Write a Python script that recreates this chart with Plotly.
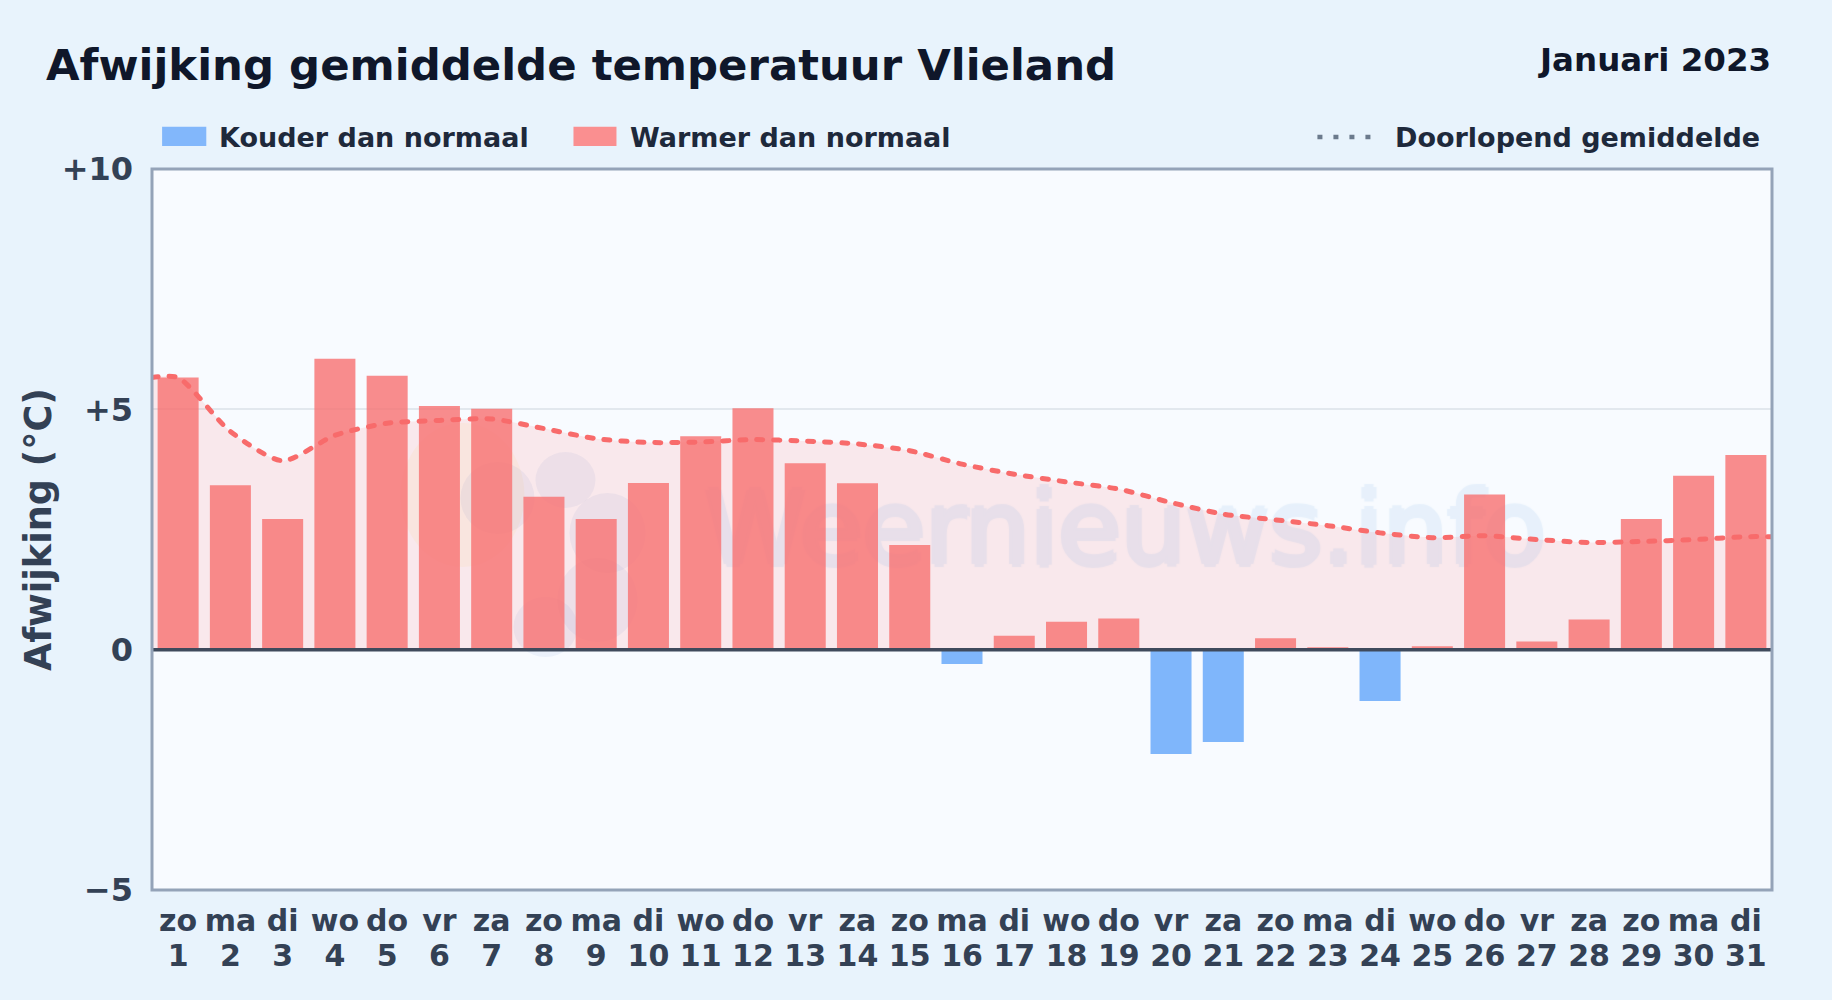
import plotly.graph_objects as go

# ---- data ----
days = list(range(1, 32))
weekdays = ["zo","ma","di","wo","do","vr","za","zo","ma","di","wo","do","vr","za","zo","ma",
            "di","wo","do","vr","za","zo","ma","di","wo","do","vr","za","zo","ma","di"]
deviation = [5.66,3.42,2.72,6.05,5.70,5.07,5.01,3.18,2.72,3.47,4.44,5.02,3.88,3.46,2.18,-0.30,
             0.29,0.58,0.65,-2.17,-1.92,0.24,0.05,-1.07,0.07,3.23,0.17,0.63,2.72,3.62,4.05]
running_x = [0.5] + days + [31.5]
running_mean = [5.66,5.66,4.54,3.93,4.46,4.71,4.77,4.80,4.60,4.39,4.31,4.32,4.37,4.34,4.28,4.14,
                3.86,3.65,3.49,3.34,3.06,2.82,2.70,2.58,2.43,2.33,2.37,2.29,2.23,2.25,2.29,2.35,2.35]
y_tick_vals = [-5, 0, 5, 10]
y_tick_text = ["−5", "0", "+5", "+10"]
watermark = "Weernieuws.info"

W, H = 1832, 1000
L, R, T, B = 151.5, 1771.6, 169.0, 890.0
FONT = "DejaVu Sans"
def px(x): return (x - L) / (R - L)
def py(y): return (B - y) / (B - T)

warm = [v if v >= 0 else None for v in deviation]
cold = [v if v < 0 else None for v in deviation]
xr = [0.5, 31.5]
yr = [-5, 10]

fig = go.Figure()
fig.add_trace(go.Scatter(x=running_x, y=running_mean, mode="none", fill="tozeroy",
                         line=dict(shape="spline", smoothing=0.7),
                         fillcolor="rgba(255,107,107,0.13)", showlegend=False))
wm_col = "#2a80d8"
wm_x = xr[0] + px(1125) * (xr[1] - xr[0])
wm_y = yr[0] + py(538) * (yr[1] - yr[0])
fig.add_trace(go.Scatter(x=[wm_x], y=[wm_y], mode="text", text=[watermark], textposition="middle center",
                         opacity=0.08, hoverinfo="skip", showlegend=False,
                         textfont=dict(family=FONT, size=102, color=wm_col,
                                       shadow=f"3px 0 1px {wm_col},-3px 0 1px {wm_col},0 3px 1px {wm_col},0 -3px 1px {wm_col}")))
fig.add_trace(go.Bar(x=days, y=warm, width=0.785, marker=dict(color="rgba(248,113,113,0.8)", line_width=0),
                     xaxis="x2", yaxis="y2", name="Warmer dan normaal", showlegend=False))
fig.add_trace(go.Bar(x=days, y=cold, width=0.785, marker=dict(color="rgba(96,165,250,0.8)", line_width=0),
                     xaxis="x2", yaxis="y2", name="Kouder dan normaal", showlegend=False))
fig.add_trace(go.Scatter(x=running_x, y=running_mean, mode="lines", xaxis="x3", yaxis="y3",
                         line=dict(color="rgba(248,107,107,1)", width=5, shape="spline", smoothing=0.7,
                                   dash="6px,11px"),
                         name="Doorlopend gemiddelde", showlegend=False))

ann = []
def text(x, y, s, size, color, anchor="left", **kw):
    ann.append(dict(x=px(x), y=py(y), xref="paper", yref="paper", text=s, showarrow=False,
                    xanchor=anchor, yanchor="middle", font=dict(family=FONT, size=size, color=color), **kw))

text(43.5, 65, "<b>Afwijking gemiddelde temperatuur Vlieland</b>", 43.4, "#0f172a")
text(1772.3, 60, "<b>Januari 2023</b>", 32.5, "#0f172a", "right")
text(216.8, 137, "<b>Kouder dan normaal</b>", 27, "#1e293b")
text(627.7, 137, "<b>Warmer dan normaal</b>", 27, "#1e293b")
text(1761.5, 137, "<b>Doorlopend gemiddelde</b>", 27, "#1e293b", "right")
text(37.5, 530, "<b>Afwijking (°C)</b>", 36.5, "#334155", "center", textangle=-90)

shapes = [
    dict(type="rect", xref="paper", yref="paper", x0=px(161.6), x1=px(205.8), y0=py(146), y1=py(126.7),
         fillcolor="#82b7fb", line_width=0),
    dict(type="rect", xref="paper", yref="paper", x0=px(573), x1=px(616), y0=py(146), y1=py(126.7),
         fillcolor="#fa8f90", line_width=0),
    dict(type="line", xref="paper", yref="paper", x0=px(1317), x1=px(1375), y0=py(137), y1=py(137),
         line=dict(color="#6b7a8c", width=4.5, dash="5px,11px")),
    dict(type="line", xref="paper", yref="y", x0=0, x1=1, y0=0, y1=0, layer="above",
         line=dict(color="#3f4a5c", width=3.5)),
    dict(type="rect", xref="paper", yref="paper", x0=0, x1=1, y0=0, y1=1, layer="above",
         line=dict(color="#94a3b8", width=3), fillcolor="rgba(0,0,0,0)"),
]
# faint weather logo behind the bars
for cx, cy, rx, ry, col in [
    (462, 495, 62, 72, "rgba(250,200,60,0.07)"),
    (497, 498, 37, 36, "rgba(40,90,190,0.06)"),
    (565, 480, 30, 28, "rgba(40,90,190,0.06)"),
    (607, 533, 38, 40, "rgba(40,90,190,0.06)"),
    (545, 627, 32, 30, "rgba(40,90,190,0.06)"),
    (597, 600, 40, 42, "rgba(40,90,190,0.06)"),
]:
    shapes.append(dict(type="circle", xref="paper", yref="paper", x0=px(cx-rx), x1=px(cx+rx),
                       y0=py(cy+ry), y1=py(cy-ry), fillcolor=col, line_width=0, layer="below"))

tick_font_x = dict(family=FONT, size=30, color="#334155", weight="bold")
fig.update_layout(
    width=W, height=H, autosize=False,
    margin=dict(l=L, r=W-R, t=T, b=H-B, pad=0),
    paper_bgcolor="#e8f3fc", plot_bgcolor="#f8fbff",
    barmode="overlay", showlegend=False,
    font=dict(family=FONT),
    annotations=ann, shapes=shapes,
    xaxis=dict(range=xr, tickmode="array", tickvals=days, ticktext=weekdays,
               tickfont=tick_font_x,
               showgrid=False, zeroline=False, ticks="", showline=False, ticklabelstandoff=10, tickangle=0),
    yaxis=dict(range=yr, tickmode="array", tickvals=y_tick_vals, ticktext=y_tick_text,
               tickfont=dict(family=FONT, size=32, color="#334155", weight="bold"),
               showgrid=True, gridcolor="#e2e8ee", gridwidth=2, zeroline=False, ticks="",
               showline=False, ticklabelstandoff=18),
    xaxis2=dict(range=xr, overlaying="x", side="bottom", tickmode="array", tickvals=days,
                ticktext=[str(d) for d in days], tickfont=tick_font_x, showgrid=False, zeroline=False,
                ticks="", showline=False, ticklabelstandoff=45, tickangle=0),
    yaxis2=dict(range=yr, overlaying="y", visible=False),
    xaxis3=dict(range=xr, overlaying="x", visible=False),
    yaxis3=dict(range=yr, overlaying="y", visible=False),
)
fig.write_html("out.html", config={"displayModeBar": False},
               post_script="document.body.style.margin='0';document.body.style.background='#e8f3fc';"
                           "document.querySelectorAll('.scatterlayer .js-line').forEach(e=>e.style.strokeLinecap='round');")
